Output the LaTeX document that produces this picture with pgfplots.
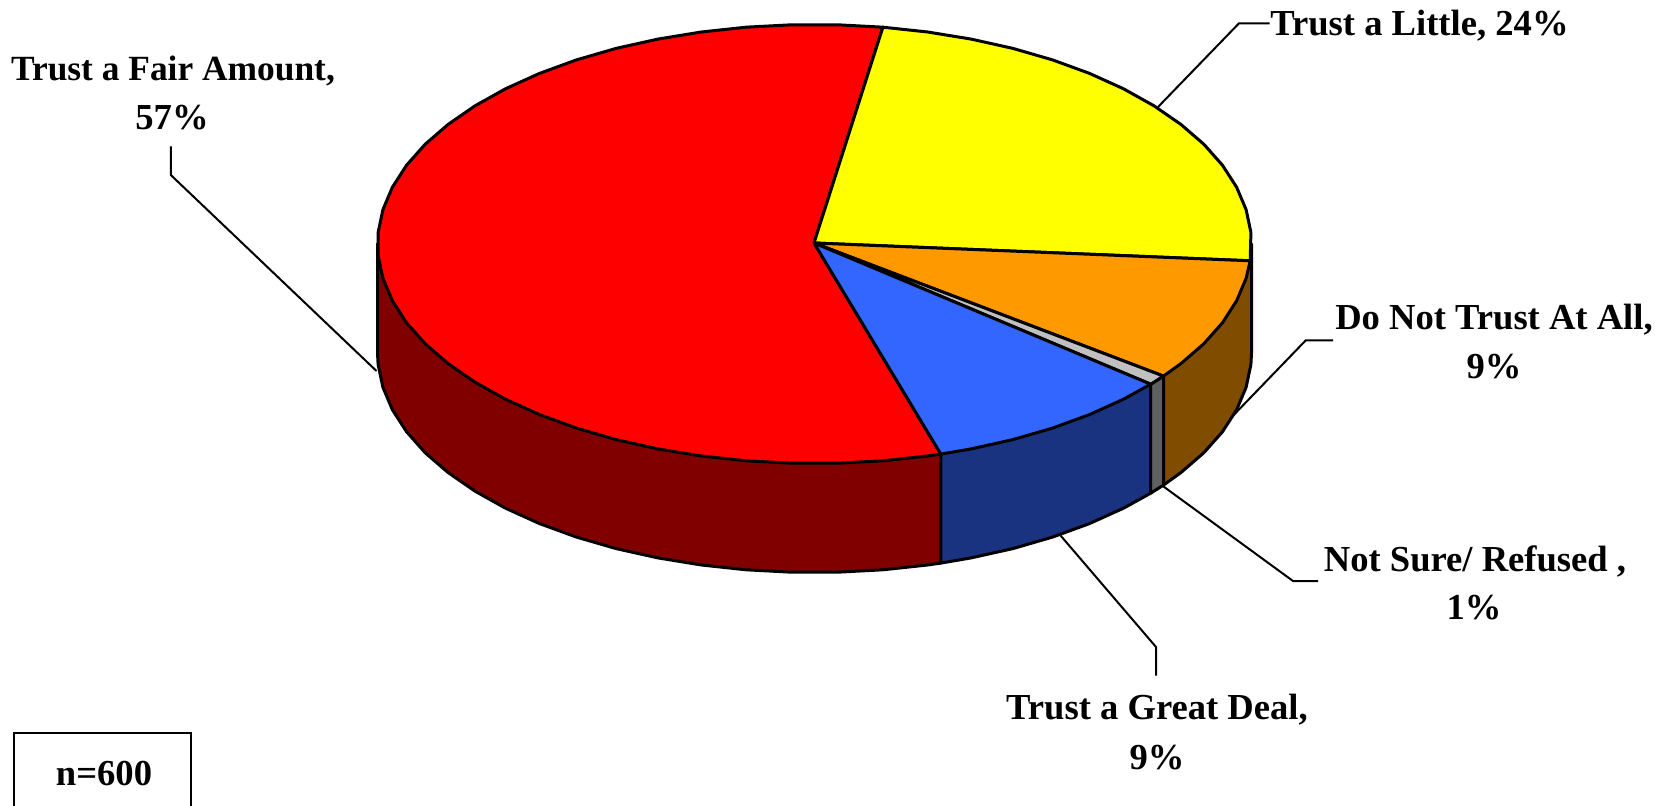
\documentclass[border=0pt]{standalone}
\usepackage{fontspec}
\setmainfont{Liberation Serif}
\usepackage{pgfplots}
\pgfplotsset{compat=1.18}
\definecolor{cred}{HTML}{FF0000}
\definecolor{cyellow}{HTML}{FFFF00}
\definecolor{corange}{HTML}{FF9900}
\definecolor{cgrey}{HTML}{C0C0C0}
\definecolor{cblue}{HTML}{3366FF}
\definecolor{dred}{HTML}{800000}
\definecolor{dorange}{HTML}{804D00}
\definecolor{dgrey}{HTML}{606060}
\definecolor{dblue}{HTML}{1A3380}
\tikzset{
    lab/.style={font=\fontsize{18.3}{20}\selectfont\bfseries, inner sep=0pt, anchor=center},
    lead/.style={line width=1pt, line join=miter},
}
\begin{document}
\begin{tikzpicture}
\begin{axis}[
    scale only axis,
    width=831.5pt, height=403pt,
    xmin=0, xmax=1663,
    ymin=0, ymax=806,
    y dir=reverse,
    hide axis,
    no markers,
    every axis plot/.append style={line width=1.5pt, line join=round, draw=black},
]
\path (axis cs:0,0) rectangle (axis cs:1663,806);

% leader lines
\addplot[lead] coordinates {(170.8,146.4) (170.8,175) (376.5,371)};
\addplot[lead] coordinates {(1158,107) (1239,23.3) (1269.5,23.3)};
\addplot[lead] coordinates {(1333,340.5) (1305.6,340.5) (1219.7,429.5)};
\addplot[lead] coordinates {(1161,484.7) (1293,581) (1318,581)};
\addplot[lead] coordinates {(1060.6,535.6) (1156,647) (1156,675.6)};

% sides
\addplot[fill=dred] coordinates {
    (940.8,454.1) (940.8,563.1) (927.6,565) (882.9,569.8) (837.4,572.2) (791.6,572.2)
    (746.1,569.8) (701.4,565) (657.9,557.9) (616.1,548.6) (576.5,537.1) (539.5,523.6)
    (505.5,508.2) (474.9,491.1) (448,472.5) (425.1,452.7) (406.5,431.7) (392.4,409.8)
    (382.9,387.3) (378.1,364.5) (377.5,353) (377.5,244) (940.8,454.1)};
\addplot[fill=dblue] coordinates {
    (1150.7,384.2) (940.8,454.1) (940.8,563.1) (971.1,557.9) (1012.9,548.6)
    (1052.5,537.1) (1089.5,523.6) (1123.5,508.2) (1150.7,493.2) (1150.7,384.2)};
\addplot[fill=dgrey] coordinates {
    (1150.7,384.2) (1163.5,376.1) (1163.5,485.1) (1150.7,493.2) (1150.7,384.2)};
\addplot[fill=dorange] coordinates {
    (1163.5,376.1) (1251.5,244) (1251.5,353) (1250.9,364.5) (1246.1,387.3) (1236.6,409.8)
    (1222.5,431.7) (1203.9,452.7) (1181,472.5) (1163.5,485.1) (1163.5,376.1)};

% top of the pie
\addplot[fill=cred] coordinates {
    (814,243) (940.8,454.1) (927.6,456) (882.9,460.8) (837.4,463.2) (791.6,463.2)
    (746.1,460.8) (701.4,456) (657.9,448.9) (616.1,439.6) (576.5,428.1) (539.5,414.6)
    (505.5,399.2) (474.9,382.1) (448,363.5) (425.1,343.7) (406.5,322.7) (392.4,300.8)
    (382.9,278.3) (378.1,255.5) (378.1,232.5) (382.9,209.7) (392.4,187.2) (406.5,165.3)
    (425.1,144.3) (448,124.5) (474.9,105.9) (505.5,88.8) (539.5,73.4) (576.5,59.9)
    (616.1,48.4) (657.9,39.1) (701.4,32) (746.1,27.2) (791.6,24.8) (837.4,24.8)
    (882.9,27.2) (814,243)};
\addplot[fill=cyellow] coordinates {
    (814,243) (882.9,27.2) (927.6,32) (971.1,39.1) (1012.9,48.4) (1052.5,59.9)
    (1089.5,73.4) (1123.5,88.8) (1154.1,105.9) (1181,124.5) (1203.9,144.3)
    (1222.5,165.3) (1236.6,187.2) (1246.1,209.7) (1250.9,232.5) (1250.2,260.8) (814,243)};
\addplot[fill=corange] coordinates {
    (814,243) (1250.2,260.8) (1246.1,278.3) (1236.6,300.8) (1222.5,322.7)
    (1203.9,343.7) (1181,363.5) (1163.5,376.1) (814,243)};
\addplot[fill=cgrey] coordinates {
    (814,243) (1163.5,376.1) (1150.7,384.2) (814,243)};
\addplot[fill=cblue] coordinates {
    (814,243) (1150.7,384.2) (1123.5,399.2) (1089.5,414.6) (1052.5,428.1)
    (1012.9,439.6) (971.1,448.9) (940.8,454.1) (814,243)};

% n box, runs off the bottom edge
\addplot[lead] coordinates {(14,812) (14,733) (191,733) (191,812)};

\node[lab, font=\fontsize{17.7}{20}\selectfont\bfseries] at (axis cs:173,71) {Trust a Fair Amount,};
\node[lab] at (axis cs:172,118) {57\%};
\node[lab, anchor=west] at (axis cs:1270,26) {Trust a Little, 24\%};
\node[lab] at (axis cs:1494,320) {Do Not Trust At All,};
\node[lab] at (axis cs:1494,367) {9\%};
\node[lab] at (axis cs:1475,561) {Not Sure/ Refused ,};
\node[lab] at (axis cs:1474,608) {1\%};
\node[lab] at (axis cs:1157,710) {Trust a Great Deal,};
\node[lab] at (axis cs:1157,758) {9\%};
\node[lab] at (axis cs:104,774) {n=600};
\end{axis}
\end{tikzpicture}
\end{document}
